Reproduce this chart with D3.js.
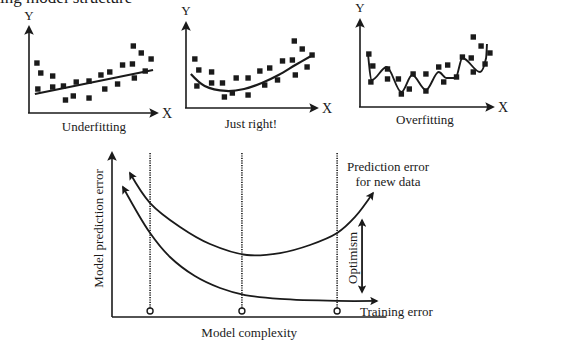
<!DOCTYPE html>
<html>
<head>
<meta charset="utf-8">
<script src="https://cdn.jsdelivr.net/npm/d3@7"></script>
<style>
  body { margin: 0; background: #fff; }
  text { font-family: "Liberation Serif", "DejaVu Serif", serif; fill: #1a1a1a; }
</style>
</head>
<body>
<div id="chart"></div>
<script>
// ---- data (units 0..10 on each small panel) ----
const underPoints = [[0.62,5.81],[0.92,4.65],[1.85,4.3],[0.69,2.79],[1.85,3.02],[2.69,3.14],[3.69,3.6],[4.69,3.72],[5.62,4.42],[6.31,4.77],[7.31,5.58],[8.08,5.7],[8.15,7.79],[8.77,6.98],[9.54,6.28],[9.08,4.88],[8.23,4.07],[6.92,3.37],[5.92,2.79],[4.69,1.74],[3.46,1.98],[2.85,1.51]]
const underFit = [[0.46,2.21],[9.69,5.0]]

const rightPoints = [[0.69,5.7],[1.0,4.42],[2.0,4.19],[0.85,2.56],[2.0,2.91],[2.85,2.91],[3.0,1.28],[3.62,1.74],[3.92,3.49],[4.85,3.49],[4.85,1.51],[5.77,4.3],[6.54,4.65],[6.15,2.67],[7.15,3.26],[7.54,5.47],[8.31,5.58],[8.54,3.84],[8.46,7.79],[9.08,6.86],[9.46,4.77],[9.85,6.16]]
const rightFit = [[0.38,3.95],[1.46,2.56],[3.15,1.98],[4.54,2.21],[5.92,2.91],[7.23,3.84],[8.54,5.0],[9.77,6.05]]

const overPoints = [[0.69,6.16],[1.0,4.77],[0.85,2.91],[2.15,4.42],[2.15,3.26],[3.0,3.26],[3.23,1.51],[3.85,2.09],[4.15,3.84],[5.15,3.84],[5.15,1.86],[6.15,4.65],[6.85,4.88],[6.54,2.91],[7.54,3.49],[8.0,5.81],[8.69,5.7],[8.85,4.07],[8.85,8.14],[9.46,7.09],[9.77,5.0],[10.15,6.28]]
const overFit = [[0.62,6.28],[0.92,3.14],[2.08,4.65],[3.23,1.74],[4.08,3.72],[5.15,1.98],[6.15,4.07],[6.77,3.37],[7.46,3.37],[8.0,5.7],[9.38,4.07],[9.85,5.7],[9.92,7.33]]

const panelTitles = ["Underfitting", "Just right!", "Overfitting"]

// bottom chart: complexity (0..10) vs error (0..10)
const predictionError = [[0.64,8.78],[1.36,6.95],[2.43,5.49],[3.5,4.45],[4.82,3.78],[6.0,3.9],[7.07,4.39],[8.04,5.12],[8.68,6.1],[9.32,7.56]]
const trainingError = [[0.39,7.93],[1.36,5.12],[2.07,3.66],[2.96,2.5],[3.86,1.77],[4.75,1.34],[6.0,1.1],[8.04,0.98],[9.46,0.98]]
const markers = [1.36, 4.64, 8.04]
const optimism = [1.52, 5.91]

const ink = "#1a1a1a"
const W = 576, H = 352

const svg = d3.select("#chart").append("svg")
    .attr("width", W).attr("height", H)

const defs = svg.append("defs")
defs.append("marker")
    .attr("id", "arr")
    .attr("viewBox", "0 0 10 10")
    .attr("refX", 8).attr("refY", 5)
    .attr("markerWidth", 4.6).attr("markerHeight", 4.6)
    .attr("markerUnits", "strokeWidth")
    .attr("orient", "auto-start-reverse")
    .append("path").attr("d", "M0,0 L10,5 L0,10 L2,5 Z").attr("fill", ink)
defs.append("marker")
    .attr("id", "arrS")
    .attr("viewBox", "0 0 10 10")
    .attr("refX", 8).attr("refY", 5)
    .attr("markerWidth", 6).attr("markerHeight", 6)
    .attr("markerUnits", "strokeWidth")
    .attr("orient", "auto-start-reverse")
    .append("path").attr("d", "M0,0 L10,5 L0,10 L2,5 Z").attr("fill", ink)

// cut-off text from the page above
svg.append("text").attr("x", 0).attr("y", 3).attr("font-size", 17).text("ing model structure")

// ---- small panels ----
const panels = [
    { x0: 29, y0: 113, w: 128, yTop: 27, yLab: 20, tY: 131, pts: underPoints, fit: underFit, curve: d3.curveLinear },
    { x0: 186, y0: 108, w: 131, yTop: 23, yLab: 15, tY: 128, pts: rightPoints, fit: rightFit, curve: d3.curveCatmullRom },
    { x0: 360, y0: 107, w: 133, yTop: 20, yLab: 12, tY: 124, pts: overPoints, fit: overFit, curve: d3.curveMonotoneX }
]

panels.forEach((p, i) => {
    let x = d3.scaleLinear().domain([0, 10]).range([p.x0, p.x0 + 128])
    let y = d3.scaleLinear().domain([0, 10]).range([p.y0, p.y0 - 86])
    const g = svg.append("g")

    /* axes */
    g.append("line").attr("x1", p.x0).attr("y1", p.y0).attr("x2", p.x0).attr("y2", p.yTop)
        .attr("stroke", ink).attr("stroke-width", 1.6).attr("marker-end", "url(#arrS)")
    g.append("line").attr("x1", p.x0 - 1).attr("y1", p.y0).attr("x2", p.x0 + p.w).attr("y2", p.y0)
        .attr("stroke", ink).attr("stroke-width", 1.6).attr("marker-end", "url(#arrS)")
    g.append("text").attr("x", p.x0).attr("y", p.yLab).attr("text-anchor", "middle")
        .attr("font-size", 13).text("Y")
    g.append("text").attr("x", p.x0 + p.w + 5).attr("y", p.y0 + 5)
        .attr("font-size", 14).text("X")
    g.append("text").attr("x", p.x0 + 65).attr("y", p.tY)
        .attr("text-anchor", "middle").attr("font-size", 13).text(panelTitles[i])

    /* fit line */
    g.append("path")
        .attr("d", d3.line().x(d => x(d[0])).y(d => y(d[1])).curve(p.curve)(p.fit))
        .attr("fill", "none").attr("stroke", ink).attr("stroke-width", i == 2 ? 1.9 : 2.2)

    /* points */
    g.selectAll("rect.pt").data(p.pts).enter().append("rect")
        .attr("x", d => x(d[0]) - 2.7)
        .attr("y", d => y(d[1]) - 2.7)
        .attr("width", 5.4).attr("height", 5.4)
        .attr("fill", ink)
})

// ---- bottom chart ----
let bx = d3.scaleLinear().domain([0, 10]).range([112, 392])
let by = d3.scaleLinear().domain([0, 10]).range([317, 153])
const b = svg.append("g")

b.append("line").attr("x1", bx(0)).attr("y1", by(0)).attr("x2", bx(0)).attr("y2", by(10))
    .attr("stroke", ink).attr("stroke-width", 1.6).attr("marker-end", "url(#arrS)")
b.append("line").attr("x1", bx(0)).attr("y1", by(0)).attr("x2", bx(9.8)).attr("y2", by(0))
    .attr("stroke", ink).attr("stroke-width", 1.6)

b.append("text")
    .attr("transform", `translate(${bx(0) - 9}, ${by(5.4)}) rotate(-90)`)
    .attr("text-anchor", "middle").attr("font-size", 13).text("Model prediction error")
b.append("text").attr("x", bx(4.9)).attr("y", 337)
    .attr("text-anchor", "middle").attr("font-size", 13).text("Model complexity")

/* dotted lines with circles */
b.selectAll("line.mk").data(markers).enter().append("line")
    .attr("x1", d => bx(d)).attr("x2", d => bx(d))
    .attr("y1", by(10)).attr("y2", by(0.55))
    .attr("stroke", ink).attr("stroke-width", 1.6).attr("stroke-dasharray", "1.2,1.2")
b.selectAll("circle.mk").data(markers).enter().append("circle")
    .attr("cx", d => bx(d)).attr("cy", by(0.37)).attr("r", 3)
    .attr("fill", "#fff").attr("stroke", ink).attr("stroke-width", 1.4)

const curveLine = d3.line().x(d => bx(d[0])).y(d => by(d[1])).curve(d3.curveCatmullRom)
b.append("path").attr("d", curveLine(predictionError))
    .attr("fill", "none").attr("stroke", ink).attr("stroke-width", 1.8)
    .attr("marker-start", "url(#arr)").attr("marker-end", "url(#arr)")
b.append("path").attr("d", curveLine(trainingError))
    .attr("fill", "none").attr("stroke", ink).attr("stroke-width", 1.8)
    .attr("marker-start", "url(#arr)").attr("marker-end", "url(#arr)")

/* optimism double arrow */
b.append("line").attr("x1", bx(8.93)).attr("x2", bx(8.93))
    .attr("y1", by(optimism[0])).attr("y2", by(optimism[1]))
    .attr("stroke", ink).attr("stroke-width", 1.8)
    .attr("marker-start", "url(#arr)").attr("marker-end", "url(#arr)")
b.append("text")
    .attr("transform", `translate(${bx(8.93) - 5}, ${by(3.6)}) rotate(-90)`)
    .attr("text-anchor", "middle").attr("font-size", 13).text("Optimism")

b.append("text").attr("x", 388).attr("y", 171).attr("text-anchor", "middle")
    .attr("font-size", 13).text("Prediction error")
b.append("text").attr("x", 388).attr("y", 186).attr("text-anchor", "middle")
    .attr("font-size", 13).text("for new data")
b.append("text").attr("x", 360).attr("y", 316)
    .attr("font-size", 13).text("Training error")
</script>
</body>
</html>
